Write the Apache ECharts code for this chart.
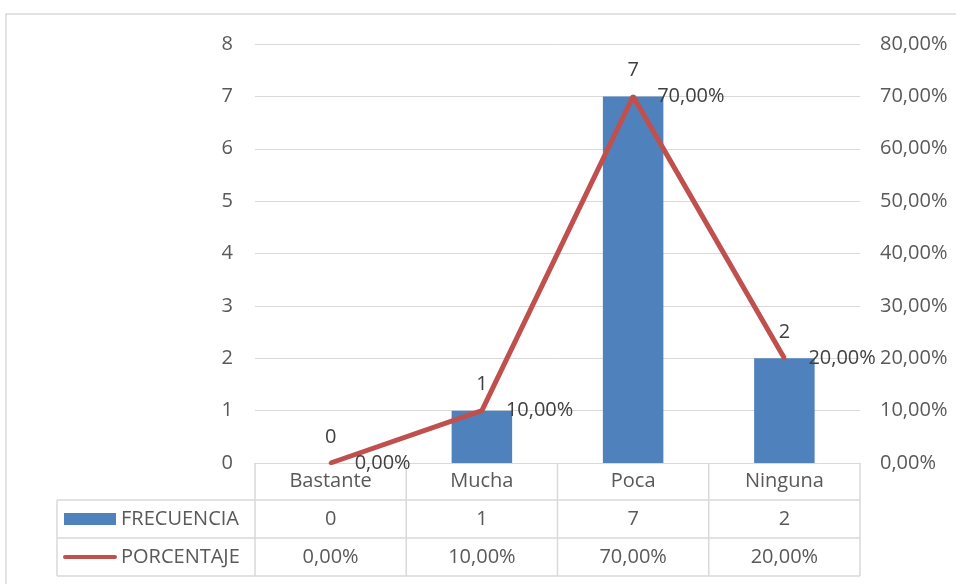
<!DOCTYPE html>
<html>
<head>
<meta charset="utf-8">
<script src="https://cdn.jsdelivr.net/npm/echarts@6/dist/echarts.min.js"></script>
<style>
  html, body { margin: 0; padding: 0; background: #fff; }
  #chart { width: 956px; height: 584px; }
</style>
</head>
<body>
<div id="chart"></div>
<script>
const categories = ["Bastante", "Mucha", "Poca", "Ninguna"];
const frecuencia = [0, 1, 7, 2];
const porcentaje = [0, 0.1, 0.7, 0.2];
const seriesNames = ["FRECUENCIA", "PORCENTAJE"];

const FONT = "Open Sans";
const GRID_COLOR = "#d9d9d9";
const pct = (v) => (v * 100).toFixed(2).replace(".", ",") + "%";

const chart = echarts.init(document.getElementById("chart"));

const option = {
  animation: false,
  textStyle: { fontFamily: FONT },
  grid: { left: 255, right: 96, top: 44, bottom: 121 },
  xAxis: {
    type: "category",
    data: categories,
    axisLine: { lineStyle: { color: GRID_COLOR } },
    axisTick: { show: false },
    axisLabel: { color: "#595959", fontSize: 20, margin: 8, fontFamily: FONT },
  },
  yAxis: [
    {
      type: "value",
      min: 0,
      max: 8,
      interval: 1,
      axisLine: { show: false },
      axisTick: { show: false },
      axisLabel: { color: "#595959", fontSize: 20, margin: 22, fontFamily: FONT },
      splitLine: { lineStyle: { color: GRID_COLOR, width: 1 } },
    },
    {
      type: "value",
      min: 0,
      max: 0.8,
      interval: 0.1,
      axisLine: { show: false },
      axisTick: { show: false },
      splitLine: { show: false },
      axisLabel: {
        color: "#595959",
        fontSize: 20,
        margin: 20,
        fontFamily: FONT,
        formatter: pct,
      },
    },
  ],
  series: [
    {
      name: seriesNames[0],
      type: "bar",
      data: frecuencia,
      barWidth: "40%",
      itemStyle: { color: "#4f81bd" },
      label: {
        show: true,
        position: "top",
        distance: 16,
        color: "#404040",
        fontSize: 20,
        fontFamily: FONT,
      },
      z: 2,
    },
    {
      name: seriesNames[1],
      type: "line",
      yAxisIndex: 1,
      data: porcentaje,
      symbol: "circle",
      symbolSize: 4,
      showSymbol: true,
      lineStyle: { color: "#c0504d", width: 5 },
      itemStyle: { color: "#c0504d" },
      label: {
        show: true,
        position: "right",
        distance: 22,
        color: "#404040",
        fontSize: 20,
        fontFamily: FONT,
        formatter: (p) => pct(p.value),
      },
      z: 3,
    },
  ],
};

chart.setOption(option);

// data table below the plot, built from the same arrays
const centers = categories.map((c, i) => chart.convertToPixel({ xAxisIndex: 0 }, i));
const half = (centers[1] - centers[0]) / 2;
const xLeft = centers[0] - half;
const xRight = centers[centers.length - 1] + half;
const yAxisPos = chart.convertToPixel({ yAxisIndex: 0 }, 0);
const rowH = 38;
const headerBottom = yAxisPos + 37;
const rows = [headerBottom, headerBottom + rowH, headerBottom + rowH * 2];
const tableLeft = 57;

const lineStyle = { stroke: GRID_COLOR, lineWidth: 1.5 };
const g = [];

// outer chart border
g.push({
  type: "rect",
  shape: { x: 6, y: 14, width: 980, height: 600 },
  style: { fill: "none", stroke: GRID_COLOR, lineWidth: 1.5 },
  silent: true,
});

rows.forEach((y) => {
  g.push({ type: "line", shape: { x1: tableLeft, y1: y, x2: xRight, y2: y }, style: lineStyle });
});
g.push({ type: "line", shape: { x1: tableLeft, y1: rows[0], x2: tableLeft, y2: rows[2] }, style: lineStyle });
for (let i = 0; i <= categories.length; i++) {
  const x = xLeft + i * half * 2;
  g.push({ type: "line", shape: { x1: x, y1: yAxisPos, x2: x, y2: rows[2] }, style: lineStyle });
}

// legend keys
const r1 = rows[0] + rowH / 2;
const r2 = rows[1] + rowH / 2;
g.push({ type: "rect", shape: { x: 64, y: r1 - 6, width: 52, height: 12 }, style: { fill: "#4f81bd" } });
g.push({
  type: "line",
  shape: { x1: 65, y1: r2, x2: 115, y2: r2 },
  style: { stroke: "#c0504d", lineWidth: 4, lineCap: "round" },
});
[seriesNames[0], seriesNames[1]].forEach((name, k) => {
  g.push({
    type: "text",
    style: {
      x: 121, y: k === 0 ? r1 : r2, text: name,
      fill: "#595959", font: "20px " + FONT, textAlign: "left", textVerticalAlign: "middle",
    },
  });
});

// cell values
categories.forEach((c, i) => {
  g.push({
    type: "text",
    style: {
      x: centers[i], y: r1, text: String(frecuencia[i]),
      fill: "#595959", font: "20px " + FONT, textAlign: "center", textVerticalAlign: "middle",
    },
  });
  g.push({
    type: "text",
    style: {
      x: centers[i], y: r2, text: pct(porcentaje[i]),
      fill: "#595959", font: "20px " + FONT, textAlign: "center", textVerticalAlign: "middle",
    },
  });
});

chart.setOption({ graphic: g });
</script>
</body>
</html>
